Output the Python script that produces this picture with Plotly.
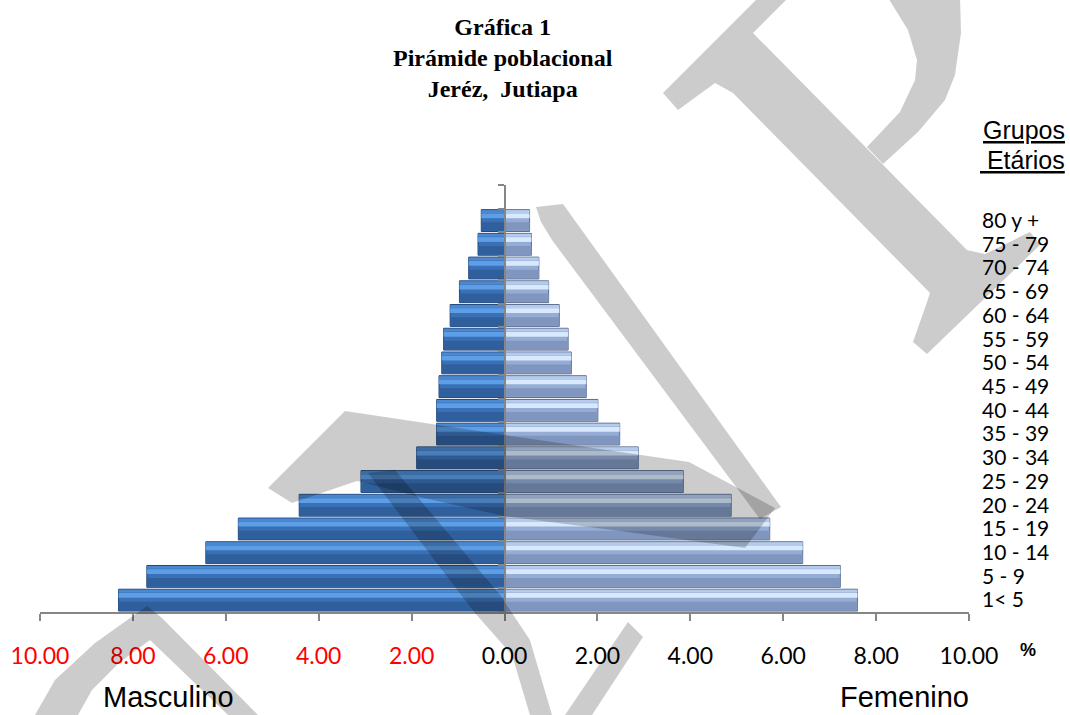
import plotly.graph_objects as go

# ---------------- data ----------------
groups = ["1< 5", "5 - 9", "10 - 14", "15 - 19", "20 - 24", "25 - 29", "30 - 34",
          "35 - 39", "40 - 44", "45 - 49", "50 - 54", "55 - 59", "60 - 64",
          "65 - 69", "70 - 74", "75 - 79", "80 y +"]
masculino = [8.31, 7.70, 6.43, 5.73, 4.42, 3.09, 1.89, 1.46, 1.46, 1.41, 1.35,
             1.31, 1.17, 0.97, 0.77, 0.57, 0.50]
femenino = [7.60, 7.23, 6.42, 5.71, 4.88, 3.85, 2.88, 2.48, 2.01, 1.76, 1.44,
            1.37, 1.18, 0.95, 0.74, 0.58, 0.54]
x_tick_values = [-10, -8, -6, -4, -2, 0, 2, 4, 6, 8, 10]
x_tick_labels = ["10.00", "8.00", "6.00", "4.00", "2.00", "0.00",
                 "2.00", "4.00", "6.00", "8.00", "10.00"]

# ---------------- geometry ----------------
FIG_W, FIG_H = 1070, 715
L, R, T, B = 40, 101, 185, 103
PW, PH = FIG_W - L - R, FIG_H - T - B

def px(x):
    return (x - L) / PW

def py(y):
    return 1 - (y - T) / PH

ypos = list(range(len(groups)))
male_x = [-v for v in masculino]

fig = go.Figure()

def bevel(xvals, yaxis, base, line, lower, top_edge, highlight):
    fig.add_trace(go.Bar(x=xvals, y=ypos, orientation="h", yaxis=yaxis,
                         width=0.92, offset=-0.46,
                         marker=dict(color=base, line=dict(color=line, width=1)),
                         showlegend=False, hoverinfo="skip"))
    fig.add_trace(go.Bar(x=xvals, y=ypos, orientation="h", yaxis=yaxis,
                         width=0.36, offset=-0.43,
                         marker=dict(color=lower, line=dict(width=0)),
                         showlegend=False, hoverinfo="skip"))
    fig.add_trace(go.Bar(x=xvals, y=ypos, orientation="h", yaxis=yaxis,
                         width=0.12, offset=0.32,
                         marker=dict(color=top_edge, line=dict(width=0)),
                         showlegend=False, hoverinfo="skip"))
    fig.add_trace(go.Bar(x=xvals, y=ypos, orientation="h", yaxis=yaxis,
                         width=0.2, offset=0.1,
                         marker=dict(color=highlight, line=dict(width=0)),
                         showlegend=False, hoverinfo="skip"))

bevel(male_x, "y", "#3a71b6", "#22477a", "#2f5f9d", "#4b88cf", "#5d9ee6")
bevel(femenino, "y2", "#95acd5", "#5b6d90", "#8096be", "#b5cbec", "#d8e9fd")

# ---------------- watermark (grey letters) ----------------
wm = [
    # P stem with serifs
    [(663, 93), (760, -4), (790, -4), (753, 33), (967, 250), (985, 254), (1030, 232),
     (1040, 245), (927, 354), (913, 342), (926, 305), (930, 293), (733, 93), (715, 83), (678, 110)],
    # P bowl
    [(887, -4), (960, -4), (961, 33), (955, 75), (945, 100), (918, 132), (883, 164),
     (867, 147), (900, 112), (915, 80), (917, 60), (908, 30)],
    # V thin stroke
    [(536, 207), (563, 204), (781, 507), (760, 519), (552, 240), (541, 222)],
    # V thick stroke
    [(268, 488), (345, 411), (505, 435), (689, 462), (775, 508), (745, 548),
     (620, 531), (504, 516), (420, 497), (357, 481), (292, 503)],
    # lower middle stroke
    [(368, 473), (395, 470), (500, 595), (530, 640), (552, 715), (530, 715), (512, 655), (475, 613)],
    # lower right stroke
    [(628, 622), (643, 637), (592, 715), (565, 715)],
    # bottom-left arch
    [(35, 715), (55, 680), (95, 643), (147, 606), (162, 618), (258, 715), (228, 715),
     (150, 640), (120, 662), (92, 690), (78, 715)],
]
shapes = []
for poly in wm:
    d = "M " + " L ".join(f"{px(x):.4f},{py(y):.4f}" for x, y in poly) + " Z"
    shapes.append(dict(type="path", path=d, xref="paper", yref="paper",
                       fillcolor="rgba(0,0,0,0.2)", line=dict(width=0), layer="above"))

# ---------------- axes ----------------
tick_text = []
for v, t in zip(x_tick_values, x_tick_labels):
    tick_text.append(f"<span style='color:#ff0000'>{t}</span>" if v < 0 else t)

axis_grey = "#868686"
fig.update_layout(
    width=FIG_W, height=FIG_H,
    margin=dict(l=L, r=R, t=T, b=B),
    paper_bgcolor="white", plot_bgcolor="white",
    barmode="overlay",
    shapes=shapes,
    xaxis=dict(range=[-10, 10], tickvals=x_tick_values, ticktext=tick_text,
               showline=True, linecolor=axis_grey, linewidth=1.5, mirror=False,
               ticks="outside", ticklen=7, tickcolor=axis_grey, tickwidth=1.5,
               showgrid=False, zeroline=False, ticklabelstandoff=16,
               tickfont=dict(family="Lato", size=23, color="black")),
    yaxis=dict(range=[-0.5, 17.5], tickvals=ypos, ticktext=groups, side="right",
               showline=False, ticks="", showgrid=False, zeroline=False,
               ticklabelstandoff=12,
               tickfont=dict(family="Lato", size=21, color="black")),
    yaxis2=dict(range=[-0.5, 17.5], overlaying="y", anchor="free", position=0.5,
                side="left", showline=True, linecolor=axis_grey, linewidth=1.5,
                ticks="outside", ticklen=6, tickcolor=axis_grey, tickwidth=1.5,
                tickvals=[i - 0.5 for i in range(len(groups) + 2)],
                showticklabels=False, showgrid=False, zeroline=False),
)

ann = []
ann.append(dict(text="<b>Gráfica 1<br>Pirámide poblacional<br>Jeréz,&nbsp; Jutiapa</b>",
                x=px(503), y=py(58), xref="paper", yref="paper",
                xanchor="center", yanchor="middle", showarrow=False, align="center",
                font=dict(family="Liberation Serif, Times New Roman", size=24, color="black")))
ann.append(dict(text="<u>Grupos</u>", x=px(1067), y=py(130), xref="paper", yref="paper",
                xanchor="right", yanchor="middle", showarrow=False,
                font=dict(family="Liberation Sans, Arial", size=25, color="black")))
ann.append(dict(text="<u>&nbsp;Etários</u>", x=px(1067), y=py(160), xref="paper", yref="paper",
                xanchor="right", yanchor="middle", showarrow=False,
                font=dict(family="Liberation Sans, Arial", size=25, color="black")))
ann.append(dict(text="<b>%</b>", x=px(1028), y=py(650), xref="paper", yref="paper",
                xanchor="center", yanchor="middle", showarrow=False,
                font=dict(family="Liberation Sans, Arial", size=18, color="black")))
ann.append(dict(text="Masculino", x=px(168), y=py(697), xref="paper", yref="paper",
                xanchor="center", yanchor="middle", showarrow=False,
                font=dict(family="Liberation Sans, Arial", size=29, color="black")))
ann.append(dict(text="Femenino", x=px(904), y=py(697), xref="paper", yref="paper",
                xanchor="center", yanchor="middle", showarrow=False,
                font=dict(family="Liberation Sans, Arial", size=29, color="black")))
fig.update_layout(annotations=ann)

fig.write_html("out.html", config={"displayModeBar": False},
               post_script="document.body.style.margin='0';document.body.style.overflow='hidden';")
